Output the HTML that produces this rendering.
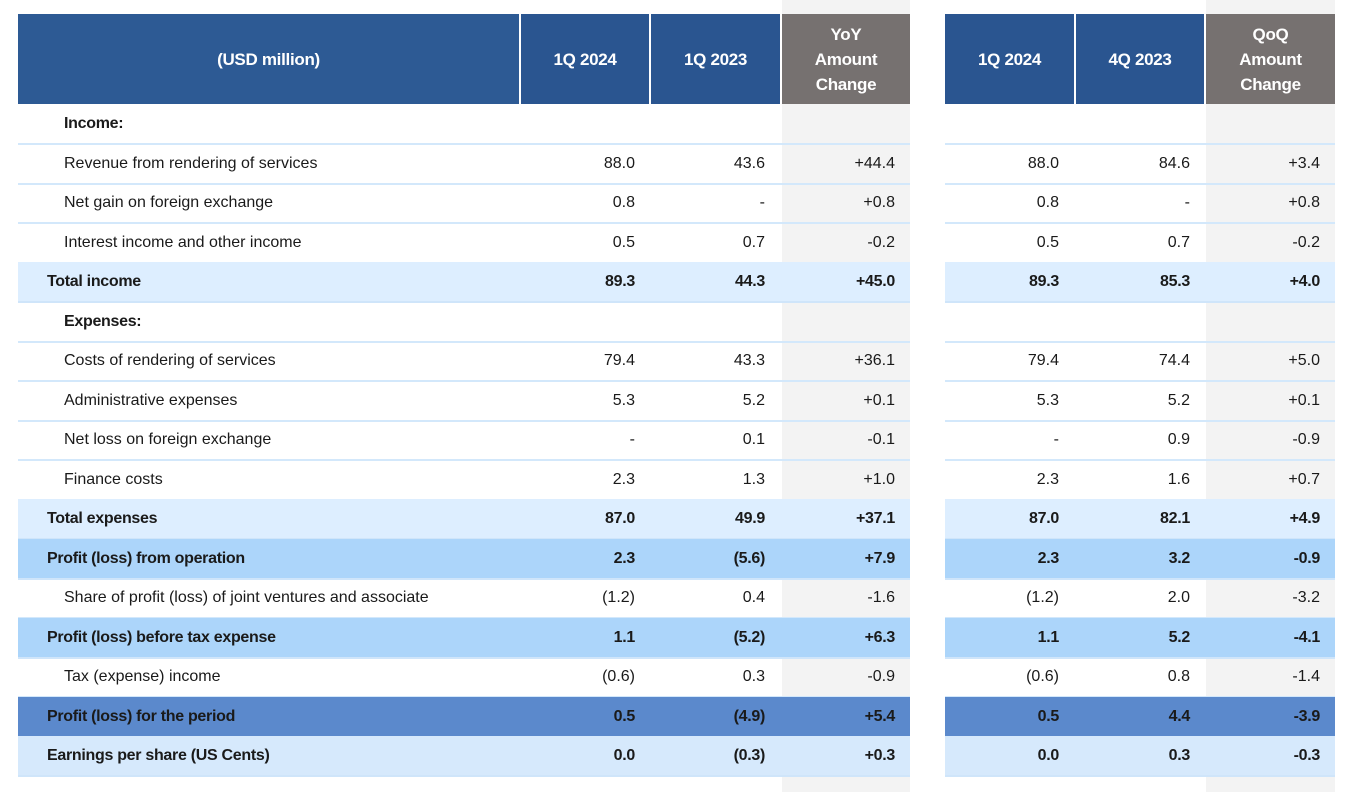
<!DOCTYPE html>
<html><head><meta charset="utf-8">
<style>
body{margin:0;width:1356px;height:792px;background:#fff;position:relative;overflow:hidden;font-family:"Liberation Sans",sans-serif;}
.g{position:absolute;top:0;height:792px;background:#f3f3f3;}
.h{position:absolute;top:14px;height:90px;display:flex;align-items:center;justify-content:center;text-align:center;color:#fff;font-weight:bold;font-size:17px;line-height:25px;letter-spacing:-0.3px;}
.row{position:absolute;height:39px;border-bottom:2px solid #cfe5fa;}
.c{position:absolute;top:0;height:39px;line-height:40px;font-size:16px;color:#1a1a1a;white-space:nowrap;}
.b{font-weight:bold;letter-spacing:-0.3px;}
</style></head><body>
<div class="g" style="left:782px;width:128px"></div>
<div class="g" style="left:1206px;width:129px"></div>
<div class="h" style="left:18px;width:501px;background:#2d5a94">(USD million)</div>
<div class="h" style="left:521px;width:128px;background:#2a5590">1Q 2024</div>
<div class="h" style="left:651px;width:129px;background:#2a5590">1Q 2023</div>
<div class="h" style="left:782px;width:128px;background:#767170">YoY<br>Amount<br>Change</div>
<div class="h" style="left:945px;width:129px;background:#2a5590">1Q 2024</div>
<div class="h" style="left:1076px;width:128px;background:#2a5590">4Q 2023</div>
<div class="h" style="left:1206px;width:129px;background:#767170">QoQ<br>Amount<br>Change</div>
<div id="t"></div>
<script>
const labels=["Income:","Revenue from rendering of services","Net gain on foreign exchange","Interest income and other income","Total income","Expenses:","Costs of rendering of services","Administrative expenses","Net loss on foreign exchange","Finance costs","Total expenses","Profit (loss) from operation","Share of profit (loss) of joint ventures and associate","Profit (loss) before tax expense","Tax (expense) income","Profit (loss) for the period","Earnings per share (US Cents)"];
const styles=["head","n","n","n","t","head","n","n","n","n","t","p","n","p","n","d","e"];
const q1_2024=["","88.0","0.8","0.5","89.3","","79.4","5.3","-","2.3","87.0","2.3","(1.2)","1.1","(0.6)","0.5","0.0"];
const q1_2023=["","43.6","-","0.7","44.3","","43.3","5.2","0.1","1.3","49.9","(5.6)","0.4","(5.2)","0.3","(4.9)","(0.3)"];
const yoy=["","+44.4","+0.8","-0.2","+45.0","","+36.1","+0.1","-0.1","+1.0","+37.1","+7.9","-1.6","+6.3","-0.9","+5.4","+0.3"];
const q4_2023=["","84.6","-","0.7","85.3","","74.4","5.2","0.9","1.6","82.1","3.2","2.0","5.2","0.8","4.4","0.3"];
const qoq=["","+3.4","+0.8","-0.2","+4.0","","+5.0","+0.1","-0.9","+0.7","+4.9","-0.9","-3.2","-4.1","-1.4","-3.9","-0.3"];
const bg={head:"",n:"",t:"#ddeeff",p:"#acd5fa",d:"#5b89cc",e:"#d6e9fc"};
const t=document.getElementById('t');
function cell(parent,txt,left,right,bold){const c=document.createElement('div');c.className='c'+(bold?' b':'');


c.textContent=txt;
if(right!==null){c.style.right=right+'px';}else{c.style.left=left+'px';}
parent.appendChild(c);}
labels.forEach((lab,i)=>{
 const y=104+i*39.5, s=styles[i], bold=(s!=="n"&&s!=="head"), shade=bg[s];
 [[18,892],[945,390]].forEach((seg,k)=>{
  const r=document.createElement('div');r.className='row';
  
  
  r.style.left=seg[0]+'px';r.style.width=seg[1]+'px';r.style.top=y+'px';
  if(shade)r.style.background=shade;
  if(s==="head"||s==="n")r.style.borderBottomColor="#d3e8fb";
  t.appendChild(r);
  if(k===0){
   cell(r,lab,(s==="n"||s==="head")?46:29,null,s!=="n");
   cell(r,q1_2024[i],0,910-635,bold);
   cell(r,q1_2023[i],0,910-765,bold);
   cell(r,yoy[i],0,910-895,bold);
  } else {
   cell(r,q1_2024[i],0,1335-1059,bold);
   cell(r,q4_2023[i],0,1335-1190,bold);
   cell(r,qoq[i],0,1335-1320,bold);
  }
 });
});
</script>
</body></html>
